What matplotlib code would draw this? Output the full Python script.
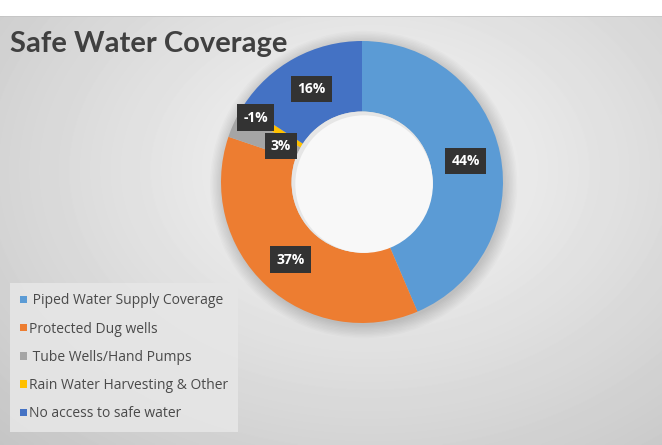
import numpy as np
import matplotlib.pyplot as plt
from matplotlib.patches import Patch, Circle

# data (labels as printed on the chart)
categories = ['Piped Water Supply Coverage', 'Protected Dug wells',
              'Tube Wells/Hand Pumps', 'Rain Water Harvesting & Other',
              'No access to safe water']
values = [44, 37, 3, -1, 16]
legend_labels = [' Piped Water Supply Coverage', 'Protected Dug wells',
                 ' Tube Wells/Hand Pumps', 'Rain Water Harvesting & Other',
                 'No access to safe water']
colors = ['#5B9BD5', '#ED7D31', '#A5A5A5', '#FFC000', '#4472C4']
label_radius = [0.75, 0.75, 0.63, 0.88, 0.75]

W, H = 662, 445
fig = plt.figure(figsize=(W / 100, H / 100), dpi=100)
fig.patch.set_facecolor('white')

# gradient background of the chart area
top = 16
bg = fig.add_axes([0, 0, 1, (H - top) / H])
yy, xx = np.mgrid[top:H, 0:W]
d = np.sqrt(((xx - 370) / 520) ** 2 + ((yy - 170) / 380) ** 2)
shade = np.clip(0.975 - 0.2 * d, 0, 1)
bg.imshow(shade, cmap='gray', vmin=0, vmax=1, aspect='auto',
          extent=[0, W, H, top], interpolation='bilinear')
bg.axhline(top + 0.5, color='#c4c4c4', lw=1.2)
bg.set_xlim(0, W)
bg.set_ylim(H, top)
bg.axis('off')

# donut
cx, cy, R = 362, 182, 141
ax = fig.add_axes([(cx - R) / W, (H - cy - R) / H, 2 * R / W, 2 * R / H])

sizes = np.abs(values)
wedges, _ = ax.pie(sizes, colors=colors, startangle=90, counterclock=False,
                   radius=1.0, wedgeprops=dict(width=0.5, linewidth=0))
for w in wedges:
    w.set_clip_on(False)
    w.set_zorder(2)
ax.set_xlim(-1, 1)
ax.set_ylim(-1, 1)
ax.set_aspect('equal')
ax.axis('off')

# soft shadow around the ring
for i in range(10):
    ax.add_patch(Circle((0.012, -0.018), 1.0 + 0.01 * i, color='black',
                        alpha=0.016, lw=0, clip_on=False, zorder=0))

# hole with a faint inner shadow
ax.add_patch(Circle((0, 0), 0.5, color='#e6e6e6', lw=0, zorder=3))
ax.add_patch(Circle((0.015, -0.015), 0.488, color='#f8f8f8', lw=0, zorder=3))

for w, v, r in zip(wedges, values, label_radius):
    mid = np.deg2rad((w.theta1 + w.theta2) / 2)
    ax.text(r * np.cos(mid), r * np.sin(mid), f'{v}%', ha='center',
            va='center', color='white', fontsize=10, fontweight='bold',
            family='Open Sans', zorder=5,
            bbox=dict(boxstyle='square,pad=0.45', fc='#333333', ec='none'))

fig.text(10 / W, 1 - 44 / H, 'Safe Water Coverage', ha='left', va='center',
         fontsize=21, fontweight='bold', color='#404040', family='Lato')

handles = [Patch(facecolor=c, edgecolor='none') for c in colors]
leg = fig.legend(handles, legend_labels, loc='upper left',
                 bbox_to_anchor=(10 / W, 1 - 283 / H), frameon=True,
                 fancybox=False, handlelength=0.45, handleheight=0.45,
                 handletextpad=0.15, labelspacing=0.95, borderpad=0.75,
                 borderaxespad=0,
                 prop={'family': 'Open Sans', 'size': 10})
leg.get_frame().set_facecolor('#e6e6e6')
leg.get_frame().set_edgecolor('none')
leg.get_frame().set_alpha(0.9)
for t in leg.get_texts():
    t.set_color('#4a4a4a')

fig.savefig('out.png', dpi=100)
